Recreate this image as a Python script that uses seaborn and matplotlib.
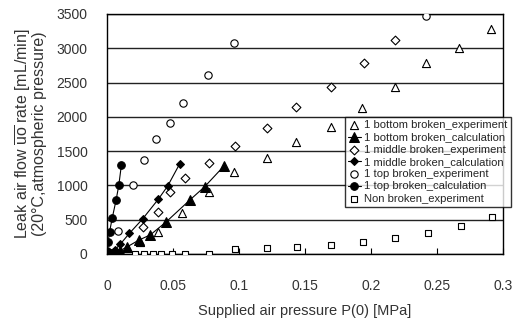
import numpy as np
import pandas as pd
import matplotlib
matplotlib.use("Agg")
import matplotlib.pyplot as plt
import seaborn as sns

# ---- data ----
bottom_exp_x = [0.025, 0.039, 0.0565, 0.0775, 0.0965, 0.121, 0.143, 0.170, 0.193, 0.218, 0.242, 0.267, 0.291]
bottom_exp_y = [170, 320, 593, 910, 1190, 1395, 1640, 1847, 2124, 2431, 2780, 3000, 3277]

bottom_calc_x = [0.002, 0.005, 0.010, 0.015, 0.024, 0.033, 0.045, 0.063, 0.074, 0.089]
bottom_calc_y = [5, 15, 50, 100, 200, 280, 470, 790, 980, 1290]

middle_exp_x = [0.0275, 0.0388, 0.0477, 0.0595, 0.077, 0.097, 0.121, 0.143, 0.170, 0.195, 0.218]
middle_exp_y = [398, 617, 909, 1103, 1332, 1580, 1833, 2140, 2431, 2780, 3121]

middle_calc_x = [0.001, 0.003, 0.006, 0.010, 0.017, 0.027, 0.039, 0.046, 0.055]
middle_calc_y = [5, 20, 60, 140, 300, 510, 800, 990, 1310]

top_exp_x = [0.0086, 0.0194, 0.028, 0.0375, 0.0476, 0.058, 0.0766, 0.096, 0.242]
top_exp_y = [340, 1006, 1365, 1672, 1915, 2207, 2610, 3082, 3463]

top_calc_x = [0.0, 0.001, 0.002, 0.004, 0.007, 0.009, 0.011]
top_calc_y = [50, 180, 320, 520, 790, 1000, 1300]

non_exp_x = [0.021, 0.028, 0.035, 0.041, 0.049, 0.059, 0.077, 0.097, 0.121, 0.144, 0.170, 0.194, 0.218, 0.243, 0.268, 0.292]
non_exp_y = [0, 0, 0, 0, 0, 0, 0, 70, 85, 105, 130, 170, 230, 310, 410, 535]

x_ticks = [0, 0.05, 0.1, 0.15, 0.2, 0.25, 0.3]
x_tick_labels = ["0", "0.05", "0.1", "0.15", "0.2", "0.25", "0.3"]
y_ticks = [0, 500, 1000, 1500, 2000, 2500, 3000, 3500]

labels = [
    "1 bottom broken_experiment",
    "1 bottom broken_calculation",
    "1 middle broken_experiment",
    "1 middle broken_calculation",
    "1 top broken_experiment",
    "1 top broken_calculation",
    "Non broken_experiment",
]

# ---- style ----
sns.set_style("white")
plt.rcParams["font.family"] = ["Liberation Sans", "DejaVu Sans"]
plt.rcParams["mathtext.fontset"] = "custom"
plt.rcParams["mathtext.rm"] = "Liberation Sans"
plt.rcParams["mathtext.it"] = "Liberation Sans"

fig = plt.figure(figsize=(5.24, 3.32), dpi=100)
ax = fig.add_axes([0.204, 0.235, 0.756, 0.723])

lw = 0.8

def exp(x, y, marker, label, s):
    sns.scatterplot(x=x, y=y, ax=ax, marker=marker, s=s, facecolor="white",
                    edgecolor="black", linewidth=0.8, label=label, zorder=3)

def calc(x, y, marker, label, size):
    sns.lineplot(x=x, y=y, ax=ax, color="black", linewidth=lw, marker=marker,
                 markersize=size, markerfacecolor="black", markeredgecolor="black",
                 estimator=None, sort=False, label=label, zorder=4)

exp(bottom_exp_x, bottom_exp_y, "^", labels[0], 34)
calc(bottom_calc_x, bottom_calc_y, "^", labels[1], 6.5)
exp(middle_exp_x, middle_exp_y, "D", labels[2], 20)
calc(middle_calc_x, middle_calc_y, "D", labels[3], 4.5)
exp(top_exp_x, top_exp_y, "o", labels[4], 28)
calc(top_calc_x, top_calc_y, "o", labels[5], 5.5)
exp(non_exp_x, non_exp_y, "s", labels[6], 24)

ax.set_xlim(0, 0.3)
ax.set_ylim(0, 3500)
ax.set_xticks(x_ticks)
ax.set_xticklabels(x_tick_labels)
ax.set_yticks(y_ticks)
ax.yaxis.grid(True, color="#222222", linewidth=1.0)
ax.xaxis.grid(False)
ax.set_axisbelow(True)
for s in ax.spines.values():
    s.set_color("black")
    s.set_linewidth(1.0)

ax.tick_params(axis="x", direction="in", length=4, pad=18, labelsize=10, colors="#333333",
               bottom=True, width=0.8)
ax.tick_params(axis="y", length=0, pad=14, labelsize=10, colors="#333333")
ax.tick_params(axis="x", color="black")

ax.set_xlabel("Supplied air pressure P(0) [MPa]", fontsize=10.5, labelpad=8, color="#333333")
ax.set_ylabel("Leak air flow $\\overline{\\mathrm{uo}}$ rate [mL/min]\n(20°C,atmospheric pressure)",
              fontsize=11.5, labelpad=7, color="#333333", linespacing=0.92)

leg = ax.legend(loc="upper left", bbox_to_anchor=(0.658, 0.648),
                bbox_transform=fig.transFigure, frameon=True, fancybox=False,
                fontsize=8.1, handlelength=1.1, handletextpad=0.3,
                labelspacing=0.2, borderpad=0.3, borderaxespad=0)
leg.get_frame().set_edgecolor("black")
leg.get_frame().set_linewidth(1.0)

fig.savefig("out.png", dpi=100)
